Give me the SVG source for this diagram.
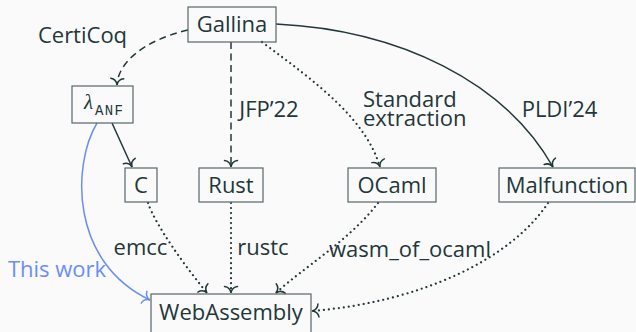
<svg xmlns="http://www.w3.org/2000/svg" width="636" height="332" viewBox="0 0 636 332">
<style>
  .bg { fill: #fafafa; }
  .box { fill: none; stroke: #56666a; stroke-width: 1.2; }
  .t { font-family: "Open Sans", "Noto Sans", "DejaVu Sans", sans-serif; font-size: 22px; fill: #23373b; }
  .c { text-anchor: middle; }
  .e { fill: none; stroke: #23373b; stroke-width: 1.5; }
  .dash { stroke-dasharray: 7 4.5; }
  .dot { stroke-width: 2.2; stroke-dasharray: 0.01 5; stroke-linecap: round; }
  .blue { stroke: #6b8ef5; }
</style>
<defs>
  <marker id="arr" markerUnits="userSpaceOnUse" viewBox="-8 -8 10 16" markerWidth="10" markerHeight="16" refX="0" refY="0" orient="auto">
    <path d="M-6.5,-6.5 C-6,-2.5 -3,-0.5 0,0 C-3,0.5 -6,2.5 -6.5,6.5" fill="none" stroke="#23373b" stroke-width="1.5" stroke-linecap="round"/>
  </marker>
  <marker id="arrb" markerUnits="userSpaceOnUse" viewBox="-8 -8 10 16" markerWidth="10" markerHeight="16" refX="0" refY="0" orient="auto">
    <path d="M-6.5,-6.5 C-6,-2.5 -3,-0.5 0,0 C-3,0.5 -6,2.5 -6.5,6.5" fill="none" stroke="#6b8ef5" stroke-width="1.5" stroke-linecap="round"/>
  </marker>
</defs>
<rect class="bg" x="0" y="0" width="636" height="332"/>

<g id="edges">
  <path class="e dash" d="M188,30 C145,40 118,62 117,85" marker-end="url(#arr)"/>
  <path class="e dash" d="M231,42 L231,167" marker-end="url(#arr)"/>
  <path class="e dot" d="M262,42 C320,85 366,120 380,167" marker-end="url(#arr)"/>
  <path class="e" d="M276,24 C400,30 505,82 553,167" marker-end="url(#arr)"/>
  <path class="e" d="M112,123 L132,167" marker-end="url(#arr)"/>
  <path class="e blue" d="M97,123 C72,165 70,262 150,300" marker-end="url(#arrb)"/>
  <path class="e dot" d="M148,203 C156,226 185,266 207,293" marker-end="url(#arr)"/>
  <path class="e dot" d="M231,203 L231,293" marker-end="url(#arr)"/>
  <path class="e dot" d="M378,203 C350,240 300,270 276,293" marker-end="url(#arr)"/>
  <path class="e dot" d="M548,203 C510,260 420,302 312,311" marker-end="url(#arr)"/>
</g>

<g id="labels">
  <text class="t c" x="82.5" y="43">CertiCoq</text>
  <text class="t c" x="269" y="117">JFP’22</text>
  <text class="t" x="363" y="107">Standard<tspan x="363" dy="19">extraction</tspan></text>
  <text class="t c" x="559.5" y="117">PLDI’24</text>
  <text class="t c" x="140.5" y="255">emcc</text>
  <text class="t c" x="263" y="255">rustc</text>
  <text class="t c" x="57" y="277" style="fill:#6b8ef5">This work</text>
  <text class="t c" x="410" y="257">wasm_of_ocaml</text>
</g>

<g id="gallina">
  <rect class="box" x="188" y="7" width="88" height="35"/>
  <text class="t c" x="232" y="32">Gallina</text>
</g>
<g id="lambda-anf">
  <rect class="box" x="72" y="86" width="61" height="37"/>
  <text x="84" y="109" style="font-family:'Liberation Serif','DejaVu Serif',serif;font-style:italic;font-size:21px;fill:#23373b">λ</text>
  <text x="95" y="115" textLength="28" style="font-family:'Liberation Mono','DejaVu Sans Mono',monospace;font-size:14px;fill:#23373b">ANF</text>
</g>
<g id="c">
  <rect class="box" x="125" y="168" width="32" height="34"/>
  <text class="t c" x="141" y="193">C</text>
</g>
<g id="rust">
  <rect class="box" x="199" y="168" width="64" height="34"/>
  <text class="t c" x="231" y="193">Rust</text>
</g>
<g id="ocaml">
  <rect class="box" x="348" y="168" width="88" height="34"/>
  <text class="t c" x="392" y="193">OCaml</text>
</g>
<g id="malfunction">
  <rect class="box" x="499" y="168" width="136" height="34"/>
  <text class="t c" x="567" y="193">Malfunction</text>
</g>
<g id="webassembly">
  <rect class="box" x="151" y="294" width="160" height="42"/>
  <text class="t c" x="231" y="320">WebAssembly</text>
</g>
</svg>
